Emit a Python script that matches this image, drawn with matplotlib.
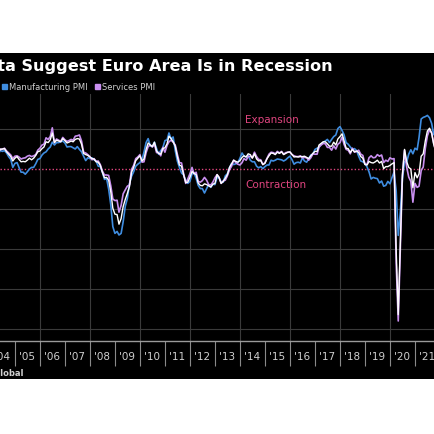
import numpy as np
import pandas as pd
import matplotlib
matplotlib.use("Agg")
import matplotlib.pyplot as plt
import matplotlib.dates as mdates
from matplotlib.patches import Rectangle, Patch

# --------------------------
# DATA (Euro area PMIs, monthly, Jan 2004 - Dec 2021)
# --------------------------
manufacturing_pmi = [
    52.4, 52.4, 53.4, 53.5, 54.7, 54.4, 54.6, 54.0, 53.1, 52.4, 50.4, 51.4,   # 2004
    51.6, 50.4, 49.2, 49.2, 48.7, 49.3, 50.0, 50.4, 50.4, 51.3, 52.4, 52.6,   # 2005
    53.5, 54.0, 54.3, 55.0, 55.5, 56.7, 56.0, 56.6, 56.6, 56.8, 57.0, 56.5,   # 2006
    55.5, 55.6, 55.6, 55.3, 55.0, 55.6, 54.9, 54.3, 53.2, 52.1, 52.8, 52.6,   # 2007
    52.8, 52.3, 52.0, 50.7, 50.6, 49.2, 47.4, 47.6, 45.0, 41.1, 35.6, 33.9,   # 2008
    34.4, 33.5, 33.9, 36.8, 40.7, 42.6, 46.3, 48.2, 49.3, 50.7, 51.2, 51.6,   # 2009
    52.4, 54.2, 56.6, 57.6, 55.8, 55.6, 56.7, 55.1, 53.7, 54.6, 55.3, 57.1,   # 2010
    57.3, 59.0, 57.5, 58.0, 54.6, 52.0, 50.4, 49.0, 48.5, 47.1, 46.4, 46.9,   # 2011
    48.8, 49.0, 47.7, 45.9, 45.1, 45.1, 44.0, 45.1, 46.1, 45.4, 46.2, 46.1,   # 2012
    47.9, 47.9, 46.8, 46.7, 48.3, 48.8, 50.3, 51.4, 51.1, 51.3, 51.6, 52.7,   # 2013
    54.0, 53.2, 53.0, 53.4, 52.2, 51.8, 51.8, 50.7, 50.3, 50.6, 50.1, 50.6,   # 2014
    51.0, 51.0, 52.2, 52.0, 52.2, 52.5, 52.4, 52.3, 52.0, 52.3, 52.8, 53.2,   # 2015
    52.3, 51.2, 51.6, 51.7, 51.5, 52.8, 52.0, 51.7, 52.6, 53.5, 53.7, 54.9,   # 2016
    55.2, 55.4, 56.2, 56.7, 57.0, 57.4, 56.6, 57.4, 58.1, 58.5, 60.1, 60.6,   # 2017
    59.6, 58.6, 56.6, 56.2, 55.5, 54.9, 55.1, 54.6, 53.2, 52.0, 51.8, 51.4,   # 2018
    50.5, 49.3, 47.5, 47.9, 47.7, 47.6, 46.5, 47.0, 45.7, 45.9, 46.9, 46.3,   # 2019
    47.9, 49.2, 44.5, 33.4, 39.4, 47.4, 51.8, 51.7, 53.7, 54.8, 53.8, 55.2,   # 2020
    54.8, 57.9, 62.5, 62.9, 63.1, 63.4, 62.8, 61.4, 58.6, 58.3, 58.4, 58.0,   # 2021
]

services_pmi = [
    51.5, 52.0, 52.5, 54.0, 55.0, 54.9, 55.2, 54.5, 54.0, 53.5, 52.6, 53.2,   # 2004
    53.3, 53.0, 52.5, 52.7, 52.8, 53.2, 53.4, 53.1, 53.3, 53.6, 54.7, 55.2,   # 2005
    56.0, 56.2, 57.8, 57.4, 58.1, 60.3, 56.6, 57.5, 57.2, 56.9, 57.9, 57.3,   # 2006
    56.9, 57.1, 57.4, 57.2, 58.2, 58.3, 58.5, 57.0, 54.2, 54.0, 53.6, 53.1,   # 2007
    52.3, 52.6, 51.9, 52.0, 51.1, 49.5, 48.5, 48.5, 48.4, 45.8, 42.5, 42.1,   # 2008
    42.2, 39.2, 40.9, 43.8, 44.8, 45.7, 46.0, 49.9, 50.9, 52.6, 53.0, 53.6,   # 2009
    51.7, 51.8, 54.1, 55.6, 56.0, 55.5, 56.2, 54.1, 54.1, 53.3, 55.4, 54.2,   # 2010
    55.9, 56.8, 57.2, 56.7, 56.0, 53.7, 51.6, 51.5, 48.8, 46.4, 47.5, 48.8,   # 2011
    50.4, 48.8, 49.2, 46.9, 46.7, 47.1, 47.9, 47.2, 46.1, 46.0, 46.7, 47.8,   # 2012
    48.6, 47.9, 46.4, 47.0, 47.2, 48.3, 49.8, 50.7, 52.2, 51.6, 51.2, 51.0,   # 2013
    51.6, 52.6, 52.2, 53.1, 53.2, 52.8, 54.2, 53.1, 52.4, 52.3, 51.1, 51.6,   # 2014
    52.7, 53.7, 54.2, 54.1, 53.8, 54.4, 54.0, 54.4, 53.7, 54.1, 54.2, 54.2,   # 2015
    53.6, 53.3, 53.1, 53.1, 53.3, 52.8, 52.9, 52.8, 52.2, 52.8, 53.8, 53.7,   # 2016
    53.7, 55.5, 56.0, 56.4, 56.3, 55.4, 55.4, 54.7, 55.8, 55.0, 56.2, 56.6,   # 2017
    58.0, 56.2, 54.9, 54.7, 53.8, 55.2, 54.2, 54.4, 54.7, 53.7, 53.4, 51.2,   # 2018
    51.2, 52.8, 53.3, 52.8, 52.9, 53.6, 53.2, 53.5, 51.6, 52.2, 51.9, 52.8,   # 2019
    52.5, 52.6, 26.4, 12.0, 30.5, 48.3, 54.7, 50.5, 48.0, 46.9, 41.7, 46.4,   # 2020
    45.4, 45.7, 49.6, 50.5, 55.2, 58.3, 59.8, 59.0, 56.4, 54.6, 55.9, 53.1,   # 2021
]

composite_pmi = [
    52.0, 52.3, 53.0, 54.0, 54.9, 55.0, 55.1, 54.3, 53.7, 53.1, 52.0, 52.7,   # 2004
    53.1, 52.4, 51.8, 51.9, 51.8, 52.2, 52.7, 52.3, 52.7, 53.4, 54.3, 54.5,   # 2005
    55.1, 55.5, 56.8, 56.6, 57.3, 59.0, 56.6, 57.2, 57.0, 56.8, 57.6, 57.1,   # 2006
    56.5, 56.7, 57.0, 56.8, 57.4, 57.6, 57.5, 56.2, 53.9, 53.6, 53.4, 53.0,   # 2007
    52.6, 52.5, 51.8, 51.7, 50.9, 49.2, 47.8, 47.9, 47.2, 44.3, 40.2, 38.7,   # 2008
    38.6, 36.2, 37.6, 40.6, 42.4, 43.9, 45.6, 49.2, 50.4, 52.1, 52.7, 53.3,   # 2009
    52.0, 52.5, 54.9, 56.5, 56.0, 55.6, 56.7, 54.5, 53.9, 53.7, 55.1, 55.3,   # 2010
    56.3, 58.2, 57.6, 56.8, 55.7, 53.1, 51.0, 50.7, 48.6, 46.6, 46.7, 47.9,   # 2011
    49.4, 48.9, 48.6, 46.5, 45.9, 45.8, 46.3, 46.1, 45.8, 45.5, 46.2, 46.4,   # 2012
    48.6, 47.9, 46.4, 46.9, 47.7, 48.6, 50.4, 51.3, 52.2, 51.9, 51.7, 52.1,   # 2013
    52.9, 53.3, 53.0, 53.8, 53.6, 52.7, 53.8, 52.5, 52.0, 52.1, 51.1, 51.4,   # 2014
    52.6, 53.3, 54.0, 53.9, 53.6, 54.2, 53.9, 54.3, 53.6, 53.9, 54.2, 54.3,   # 2015
    53.6, 53.0, 53.1, 53.0, 53.1, 53.1, 53.2, 52.9, 52.6, 53.3, 53.9, 54.4,   # 2016
    54.4, 56.0, 56.4, 56.8, 56.8, 56.3, 55.7, 55.7, 56.7, 56.0, 57.5, 58.1,   # 2017
    58.8, 57.1, 55.2, 55.1, 54.1, 54.9, 54.3, 54.5, 54.1, 53.1, 52.7, 51.1,   # 2018
    51.0, 51.9, 51.6, 51.5, 51.8, 52.2, 51.5, 51.9, 50.1, 50.6, 50.6, 50.9,   # 2019
    51.3, 51.6, 29.7, 13.6, 31.9, 48.5, 54.9, 51.9, 50.4, 50.0, 45.3, 49.1,   # 2020
    47.8, 48.8, 53.2, 53.8, 57.1, 59.5, 60.2, 59.0, 56.2, 54.2, 55.4, 53.3,   # 2021
]

dates = pd.date_range("2004-01-31", periods=len(manufacturing_pmi), freq="ME")

TITLE = "Data Suggest Euro Area Is in Recession"
SOURCE = "Source: S&P Global"

BLUE = "#3f8de0"
VIOLET = "#c98ff0"
PINK = "#e0457f"
GRID = "#3a3a3a"

# --------------------------
# FIGURE
# --------------------------
W, H = 435, 435
fig = plt.figure(figsize=(W / 100, H / 100), dpi=100)
fig.patch.set_facecolor("white")

# black card behind the chart
fig.patches.append(Rectangle((0, 1 - 380 / H), 1, (380 - 54) / H,
                             transform=fig.transFigure, facecolor="black",
                             edgecolor="none", zorder=-5))

ax = fig.add_axes([0, 1 - 342 / H, 1, (342 - 95) / H])
ax.set_facecolor("black")

ax.plot(dates, manufacturing_pmi, color=BLUE, lw=1.2, zorder=3)
ax.plot(dates, services_pmi, color=VIOLET, lw=1.2, zorder=4)
ax.plot(dates, composite_pmi, color="white", lw=1.0, zorder=5)

# 50 = expansion / contraction threshold
ax.axhline(50, color=PINK, lw=1.0, ls=(0, (1, 1.5)), zorder=2)
ax.text(pd.Timestamp("2015-04-10"), 62.5, "Expansion", color=PINK,
        fontsize=7.5, ha="center", va="center")
ax.text(pd.Timestamp("2015-06-10"), 46.2, "Contraction", color=PINK,
        fontsize=7.5, ha="center", va="center")

ax.set_xlim(pd.Timestamp("2004-05-27"), pd.Timestamp("2021-10-19"))
ax.set_ylim(7, 68.75)

# grid: horizontal every 10, vertical every other year
for v in [10, 20, 30, 40, 60]:
    ax.axhline(v, color=GRID, lw=0.8, zorder=1)
for yr in range(2006, 2022, 2):
    ax.axvline(pd.Timestamp(f"{yr}-01-01"), color=GRID, lw=0.8, zorder=1)

ax.xaxis.set_major_locator(mdates.YearLocator())
ax.xaxis.set_major_formatter(plt.NullFormatter())
ax.xaxis.set_minor_locator(mdates.YearLocator(month=7))
ax.xaxis.set_minor_formatter(mdates.DateFormatter("'%y"))
ax.tick_params(axis="x", which="major", length=18, width=0.8, color="#8a8a8a")
ax.tick_params(axis="x", which="minor", length=0, pad=7, labelsize=7.5,
               labelcolor="#d0d0d0")
ax.set_yticks([])
for side in ["top", "left", "right"]:
    ax.spines[side].set_visible(False)
ax.spines["bottom"].set_color("#9a9a9a")
ax.spines["bottom"].set_linewidth(1.0)

# title, legend, source
fig.text(333 / W, 1 - 66 / H, TITLE, color="white", fontsize=11.6,
         fontweight="bold", ha="right", va="center")

handles = [Patch(color=BLUE, label="Manufacturing PMI"),
           Patch(color=VIOLET, label="Services PMI")]
fig.legend(handles=handles, loc="center left",
           bbox_to_anchor=(2 / W, 1 - 88 / H), ncol=2, frameon=False,
           fontsize=6, labelcolor="#d0d0d0", handlelength=0.6,
           handleheight=0.6, handletextpad=0.3, columnspacing=0.8,
           borderaxespad=0, borderpad=0)

fig.text(23 / W, 1 - 374 / H, SOURCE, color="#d0d0d0", fontsize=6,
         fontweight="bold", ha="right", va="center")

fig.savefig("out.png", dpi=100, facecolor=fig.get_facecolor())
